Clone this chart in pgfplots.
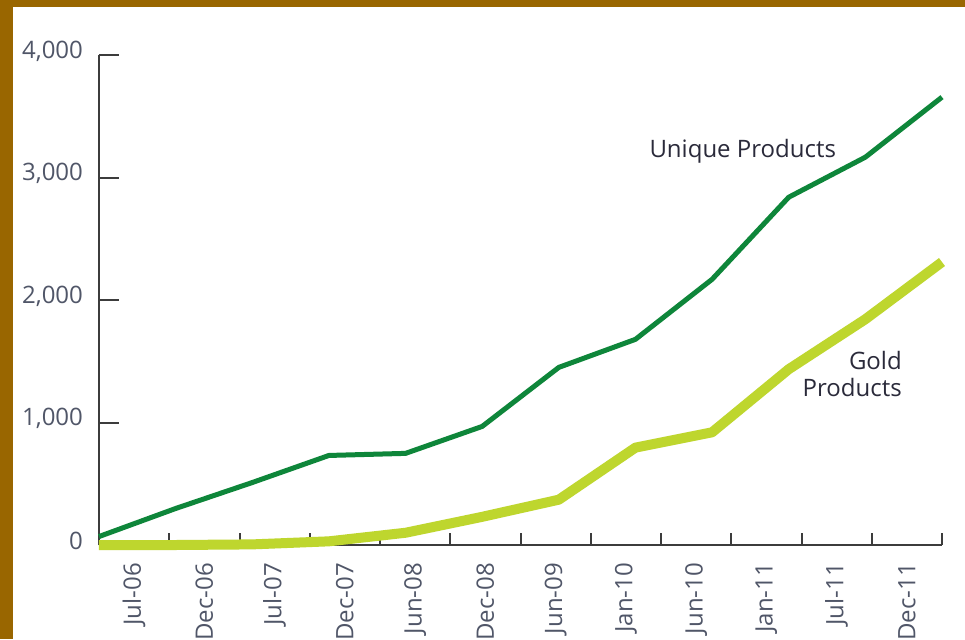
\documentclass[border=0pt]{standalone}
\usepackage{fontspec}
\setmainfont{Open Sans}
\usepackage{pgfplots}
\pgfplotsset{compat=1.18}
\definecolor{frame}{RGB}{153,102,0}
\definecolor{ugreen}{RGB}{14,134,58}
\definecolor{gyellow}{RGB}{190,214,46}
\definecolor{axisgray}{RGB}{60,60,60}
\definecolor{labelgray}{RGB}{80,86,104}
\definecolor{txt}{RGB}{42,42,58}
\begin{document}
\begin{tikzpicture}
\fill[frame] (-49.5pt,-47pt) rectangle (433pt,272.5pt);
\fill[white] (-43pt,-47pt) rectangle (433pt,269pt);
\begin{axis}[
  at={(0,0)}, anchor=south west,
  scale only axis, width=421.5pt, height=245pt,
  xmin=0, xmax=11, ymin=0, ymax=4000,
  axis lines*=left,
  axis line style={axisgray, line width=1pt},
  tick align=inside,
  major tick length=10pt,
  minor tick length=6pt,
  every tick/.style={axisgray, line width=1pt},
  xtick={0.45833,1.375,2.29167,3.20833,4.125,5.04167,5.95833,6.875,7.79167,8.70833,9.625,10.54167},
  xticklabels={Jul-06,Dec-06,Jul-07,Dec-07,Jun-08,Dec-08,Jun-09,Jan-10,Jun-10,Jan-11,Jul-11,Dec-11},
  major x tick style={draw=none},
  minor xtick={0,0.91667,1.83333,2.75,3.66667,4.58333,5.5,6.41667,7.33333,8.25,9.16667,10.08333,11},
  minor x tick style={axisgray, line width=1pt},
  xticklabel style={yshift=-5.5pt, rotate=90, anchor=east, font=\fontsize{12}{14}\selectfont, text=labelgray},
  ytick={0,1000,2000,3000,4000},
  yticklabel style={text=labelgray, font=\fontsize{12}{14}\selectfont, xshift=-4.5pt, yshift=2pt},
  /pgf/number format/assume math mode=true,
  /pgf/number format/1000 sep={,},
  clip=false,
]
\addplot[gyellow, line width=5pt, line join=round] coordinates {
(0,0) (1,0) (2,5) (3,30) (4,100) (5,230) (6,370) (7,795) (8,920) (9,1435) (10,1843) (11,2310)
};
\addplot[ugreen, line width=2.5pt, line join=round] coordinates {
(0,69) (1,298) (2,510) (3,731) (4,748) (5,968) (6,1450) (7,1679) (8,2169) (9,2839) (10,3166) (11,3656)
};
\node[txt, font=\fontsize{12}{14}\selectfont, inner sep=0pt] at (axis cs:8.40,3215) {Unique Products};
\node[txt, font=\fontsize{12}{13.5}\selectfont, align=right, anchor=east, inner sep=0pt] at (axis cs:10.48,1397) {Gold\\Products};
\end{axis}
\pgfresetboundingbox
\path[use as bounding box] (-49.5pt,-47pt) rectangle (433pt,272.5pt);
\end{tikzpicture}
\end{document}
